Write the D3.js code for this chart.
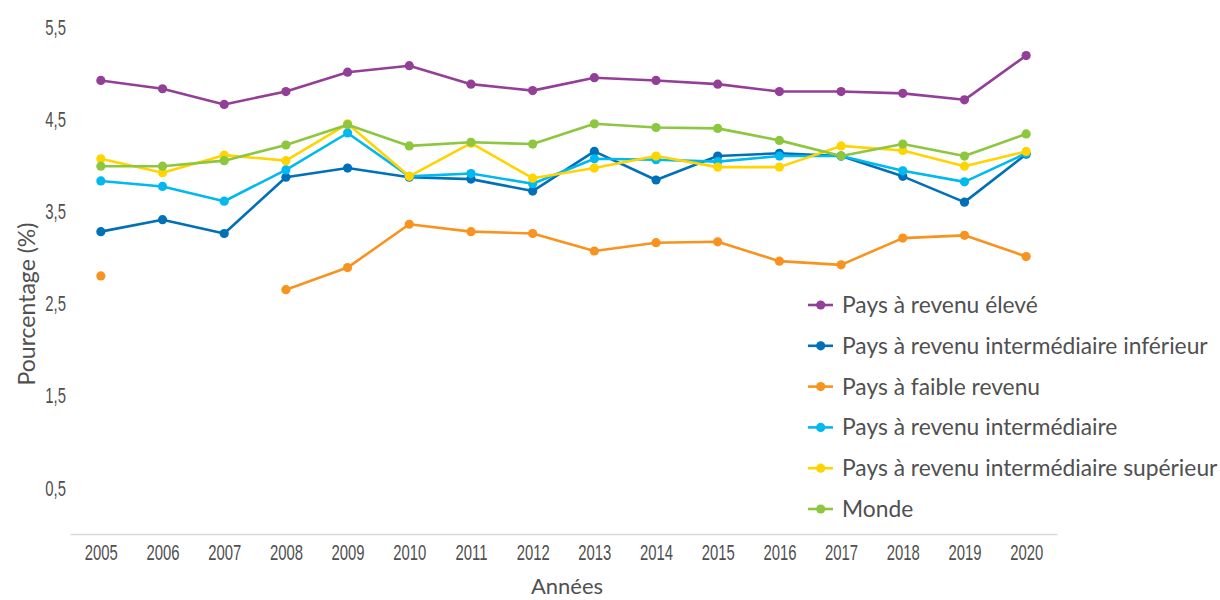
<!DOCTYPE html>
<html>
<head>
<meta charset="utf-8">
<script src="https://cdn.jsdelivr.net/npm/d3@7"></script>
<style>
    body { margin: 0; background: #ffffff; }
    .tick text { font-family: "Liberation Sans", Arial, sans-serif; }
</style>
</head>
<body>
<div id="chart"></div>
<script>
const years = ["2005", "2006", "2007", "2008", "2009", "2010", "2011", "2012",
    "2013", "2014", "2015", "2016", "2017", "2018", "2019", "2020"];

const seriesNames = [
    "Pays à revenu élevé",
    "Pays à revenu intermédiaire inférieur",
    "Pays à faible revenu",
    "Pays à revenu intermédiaire",
    "Pays à revenu intermédiaire supérieur",
    "Monde"
];

const seriesColors = ["#943f97", "#0070b8", "#f7931e", "#00b9ee", "#ffd400", "#8dc63f"];

const eleve = [4.92, 4.83, 4.66, 4.80, 5.01, 5.08, 4.88, 4.81, 4.95, 4.92, 4.88, 4.80, 4.80, 4.78, 4.71, 5.19];
const interInf = [3.28, 3.41, 3.26, 3.87, 3.97, 3.87, 3.85, 3.72, 4.15, 3.84, 4.10, 4.13, 4.10, 3.88, 3.60, 4.12];
const faible = [2.80, null, null, 2.65, 2.89, 3.36, 3.28, 3.26, 3.07, 3.16, 3.17, 2.96, 2.92, 3.21, 3.24, 3.01];
const inter = [3.83, 3.77, 3.61, 3.95, 4.35, 3.88, 3.91, 3.80, 4.07, 4.06, 4.04, 4.10, 4.10, 3.94, 3.82, 4.13];
const interSup = [4.07, 3.92, 4.11, 4.05, 4.45, 3.88, 4.24, 3.86, 3.97, 4.10, 3.98, 3.98, 4.21, 4.16, 3.99, 4.15];
const monde = [3.99, 3.99, 4.05, 4.22, 4.44, 4.21, 4.25, 4.23, 4.45, 4.41, 4.40, 4.27, 4.10, 4.23, 4.10, 4.34];

const yTicks = [0.5, 1.5, 2.5, 3.5, 4.5, 5.5];

const allSeries = [eleve, interInf, faible, inter, interSup, monde];

const width = 1220, height = 600;
const plot = { left: 70, right: 1057, top: 27, bottom: 534 };
const textFont = "Lato, 'Open Sans', sans-serif";

const svg = d3.select("#chart")
    .append("svg")
    .attr("width", width)
    .attr("height", height);

const x = d3.scalePoint()
    .domain(years)
    .range([plot.left, plot.right])
    .padding(0.5);

const y = d3.scaleLinear()
    .domain([0, 5.5])
    .range([plot.bottom, plot.top]);

// police étroite : on compresse les étiquettes des axes
function narrow(sel) {
    sel.each(function () {
        const w = this.getComputedTextLength();
        d3.select(this)
            .attr("textLength", w * 0.66)
            .attr("lengthAdjust", "spacingAndGlyphs");
    });
}

// axe des X
const xAxis = svg.append("g")
    .attr("transform", `translate(0,${plot.bottom})`)
    .call(d3.axisBottom(x).tickSize(0).tickPadding(10).tickSizeOuter(0));
xAxis.select(".domain").attr("stroke", "#d9d9d9").attr("stroke-width", 1.5);
xAxis.selectAll("text").attr("font-size", "22.5px").attr("fill", "#505050").call(narrow);

// axe des Y
const yAxis = svg.append("g")
    .attr("transform", `translate(${plot.left},0)`)
    .call(d3.axisLeft(y).tickValues(yTicks).tickSize(0).tickPadding(4)
        .tickFormat(d => d3.format(".1f")(d).replace(".", ",")));
yAxis.select(".domain").remove();
yAxis.selectAll("text").attr("font-size", "22.5px").attr("fill", "#505050").call(narrow);

const line = d3.line()
    .defined(d => d != null)
    .x((d, i) => x(years[i]))
    .y(d => y(d));

allSeries.forEach((values, s) => {
    svg.append("path")
        .datum(values)
        .attr("fill", "none")
        .attr("stroke", seriesColors[s])
        .attr("stroke-width", 2.6)
        .attr("stroke-linejoin", "round")
        .attr("d", line);

    svg.selectAll(".dot" + s)
        .data(values.map((v, i) => ({ year: years[i], v })).filter(d => d.v != null))
        .enter()
        .append("circle")
        .attr("cx", d => x(d.year))
        .attr("cy", d => y(d.v))
        .attr("r", 4.6)
        .attr("fill", seriesColors[s]);
});

// légende
const legend = svg.append("g").attr("transform", "translate(808,305)");
seriesNames.forEach((name, i) => {
    const row = legend.append("g").attr("transform", `translate(0,${i * 40.8})`);
    row.append("line")
        .attr("x1", 0).attr("x2", 25)
        .attr("stroke", seriesColors[i])
        .attr("stroke-width", 2.6);
    row.append("circle")
        .attr("cx", 12.7)
        .attr("r", 4.6)
        .attr("fill", seriesColors[i]);
    row.append("text")
        .attr("x", 34)
        .attr("dy", "0.35em")
        .attr("font-family", textFont)
        .attr("font-size", "22.8px")
        .attr("fill", "#505050")
        .text(name);
});

// titres des axes
svg.append("text")
    .attr("transform", "translate(27,304) rotate(-90)")
    .attr("text-anchor", "middle")
    .attr("dy", "0.35em")
    .attr("font-family", textFont)
    .attr("font-size", "23px")
    .attr("fill", "#505050")
    .text("Pourcentage (%)");

svg.append("text")
    .attr("x", 567)
    .attr("y", 586)
    .attr("text-anchor", "middle")
    .attr("dy", "0.35em")
    .attr("font-family", textFont)
    .attr("font-size", "22px")
    .attr("fill", "#505050")
    .text("Années");
</script>
</body>
</html>
